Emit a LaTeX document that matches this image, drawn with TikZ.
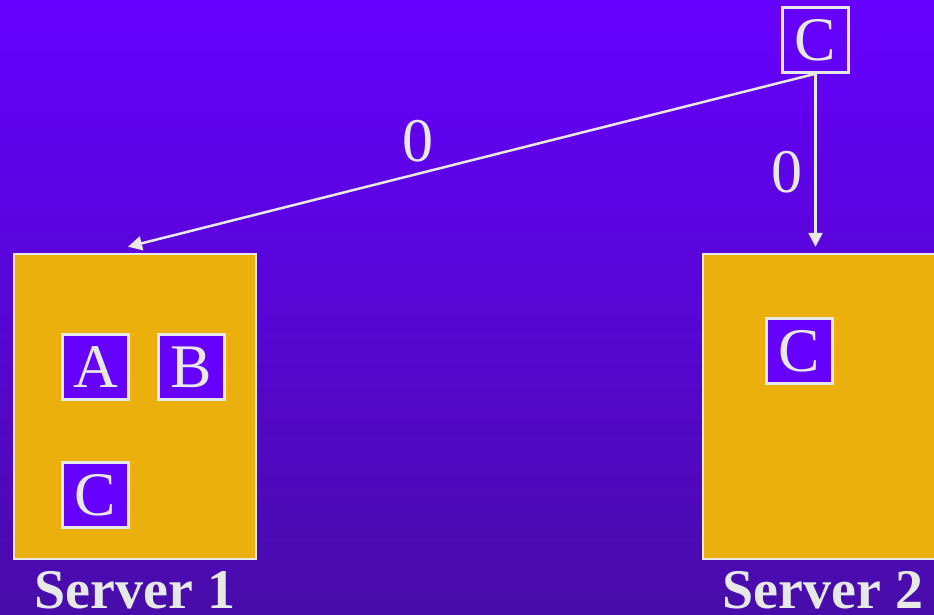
\documentclass[tikz,border=0pt]{standalone}
\usepackage{fontspec}
\setmainfont{Liberation Serif}
\usetikzlibrary{arrows.meta}
\definecolor{bgtop}{RGB}{102,0,255}
\definecolor{bgbot}{RGB}{72,12,170}
\definecolor{srvfill}{RGB}{236,176,14}
\definecolor{itemfill}{RGB}{102,0,255}
\definecolor{ink}{RGB}{232,232,232}
\tikzset{
  server/.style={draw=ink, line width=2.5pt, fill=srvfill, minimum width=242pt, minimum height=305pt, inner sep=0pt},
  item/.style={draw=ink, line width=2.5pt, fill=itemfill, text=ink, minimum width=66pt, minimum height=65pt, inner sep=0pt, font=\fontsize{62}{62}\selectfont},
  toptag/.style={item, fill=none},
  cost/.style={text=ink, font=\fontsize{62}{62}\selectfont, inner sep=0pt},
  caption/.style={text=ink, font=\fontsize{56}{56}\selectfont\bfseries, inner sep=0pt, anchor=base},
  link/.style={draw=ink, line width=2.5pt, -{Triangle[length=14pt,width=14pt]}}
}
\begin{document}
\begin{tikzpicture}[x=1pt, y=-1pt]
  \useasboundingbox (0,0) rectangle (934,614);
  \clip (0,0) rectangle (934,614);
  % background
  \shade[top color=bgtop, bottom color=bgbot] (0,0) rectangle (934,614);
  % servers
  \node[server] (srv1) at (135,406.5) {};
  \node[server, minimum width=260pt] (srv2) at (833,406.5) {};
  % items held by each server
  \node[item] (a1) at (95.5,367) {A};
  \node[item] (b1) at (191.5,367) {B};
  \node[item] (c1) at (95.5,495) {C};
  \node[item] (c2) at (799.5,351) {C};
  % item being placed
  \node[toptag] (ctop) at (815.5,40) {C};
  % placement costs
  \coordinate (t1) at ([xshift=-7pt, yshift=6pt]srv1.north);
  \coordinate (t2) at ([yshift=6pt]srv2.north -| ctop.south);
  \draw[link] (ctop.south) -- (t1);
  \draw[link] (ctop.south) -- (t2);
  \node[cost] (w1) at (418,141) {0};
  \node[cost] (w2) at (787,172) {0};
  % captions
  \node[caption] (cap1) at (135,608) {Server 1};
  \node[caption] (cap2) at (823,608) {Server 2};
\end{tikzpicture}
\end{document}
